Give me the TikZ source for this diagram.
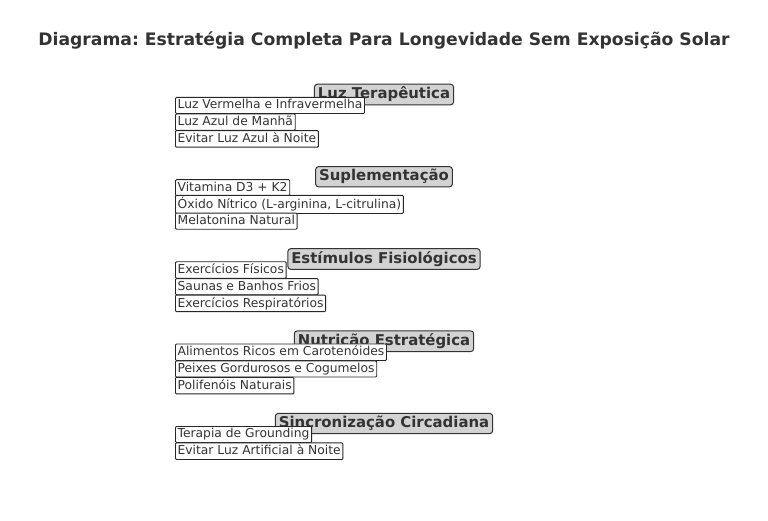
\documentclass[tikz,border=0pt]{standalone}
\usepackage{fontspec}
\setmainfont{DejaVu Sans}
\frenchspacing
\definecolor{txt}{HTML}{333333}
\definecolor{hdrfill}{HTML}{D3D3D3}
\newcommand{\lp}{\vphantom{lp}}
\begin{document}
\begin{tikzpicture}[x=1pt,y=1pt,
  titlestyle/.style={font=\bfseries\fontsize{17.2}{20}\selectfont, text=txt},
  hdrbox/.style={draw=txt, fill=hdrfill, rounded corners=3pt, line width=1pt,
     font=\bfseries\fontsize{14.9}{17}\selectfont, text=txt, inner xsep=3.5pt, inner ysep=2.8pt},
  itembox/.style={draw=black!85, fill=white, rounded corners=1pt, line width=0.9pt,
     font=\fontsize{12.3}{14}\selectfont, text=txt, anchor=west, inner xsep=2.2pt, inner ysep=2.1pt}]
\useasboundingbox (0,0) rectangle (768,-521);
\node[titlestyle] (title) at (384,-40) {Diagrama: Estratégia Completa Para Longevidade Sem Exposição Solar};

% Group 1
\node[hdrbox] (h1) at (384,-94.5) {\lp Luz Terapêutica};
\node[itembox] (i11) at (175,-105.5) {\lp Luz Vermelha e Infravermelha};
\node[itembox] (i12) at (175,-122.2) {\lp Luz Azul de Manhã};
\node[itembox] (i13) at (175,-138.9) {\lp Evitar Luz Azul à Noite};

% Group 2
\node[hdrbox] (h2) at (384,-176.75) {\lp Suplementação};
\node[itembox] (i21) at (175,-187.75) {\lp Vitamina D3 + K2};
\node[itembox] (i22) at (175,-204.45) {\lp Óxido Nítrico (L-arginina, L-citrulina)};
\node[itembox] (i23) at (175,-221.15) {\lp Melatonina Natural};

% Group 3
\node[hdrbox] (h3) at (384,-259) {\lp Estímulos Fisiológicos};
\node[itembox] (i31) at (175,-270) {\lp Exercícios Físicos};
\node[itembox] (i32) at (175,-286.7) {\lp Saunas e Banhos Frios};
\node[itembox] (i33) at (175,-303.4) {\lp Exercícios Respiratórios};

% Group 4
\node[hdrbox] (h4) at (384,-341.25) {\lp Nutrição Estratégica};
\node[itembox] (i41) at (175,-352.25) {\lp Alimentos Ricos em Carotenóides};
\node[itembox] (i42) at (175,-368.95) {\lp Peixes Gordurosos e Cogumelos};
\node[itembox] (i43) at (175,-385.65) {\lp Polifenóis Naturais};

% Group 5
\node[hdrbox] (h5) at (384,-423.5) {\lp Sincronização Circadiana};
\node[itembox] (i51) at (175,-434.5) {\lp Terapia de Grounding};
\node[itembox] (i52) at (175,-451.2) {\lp Evitar Luz Artificial à Noite};
\end{tikzpicture}
\end{document}
